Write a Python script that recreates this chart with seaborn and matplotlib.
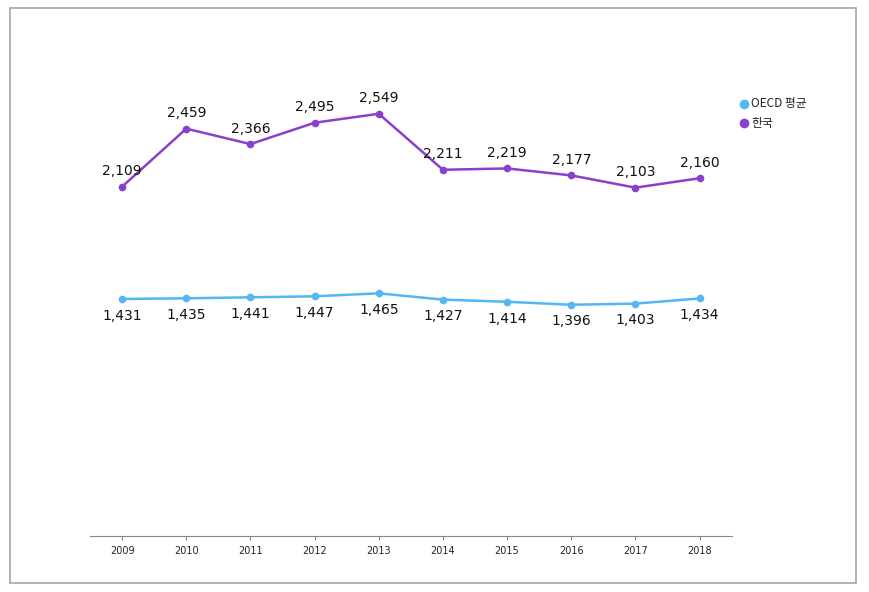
import matplotlib
matplotlib.use("Agg")
import matplotlib.pyplot as plt
import seaborn as sns
import pandas as pd
from matplotlib.patches import Rectangle

years = ["2009", "2010", "2011", "2012", "2013", "2014", "2015", "2016", "2017", "2018"]
oecd = [1431, 1435, 1441, 1447, 1465, 1427, 1414, 1396, 1403, 1434]
korea = [2109, 2459, 2366, 2495, 2549, 2211, 2219, 2177, 2103, 2160]
series_names = ["OECD 평균", "한국"]
colors = ["#55b6f5", "#8a40cc"]

sns.set_theme(style="white")
plt.rcParams['font.family'] = ['Noto Sans CJK KR', 'DejaVu Sans']

df = pd.DataFrame({
    "year": years * 2,
    "value": oecd + korea,
    "series": [series_names[0]] * len(years) + [series_names[1]] * len(years),
})

fig = plt.figure(figsize=(8.69, 5.92), dpi=100)
fig.patch.set_facecolor("white")
ax = fig.add_axes([0.1036, 0.0946, 0.7384, 0.8394])

sns.lineplot(data=df, x="year", y="value", hue="series", palette=colors,
             marker="o", markersize=5.5, markeredgewidth=0, linewidth=1.8,
             sort=False, ax=ax, legend=False)

ax.set_xlim(-0.5, len(years) - 0.5)
ax.set_ylim(0, 3000)
ax.set_xlabel("")
ax.set_ylabel("")
ax.set_yticks([])
for s in ["top", "right", "left"]:
    ax.spines[s].set_visible(False)
ax.spines["bottom"].set_color("#888888")
ax.spines["bottom"].set_linewidth(0.8)
ax.set_xticks(range(len(years)))
ax.set_xticklabels(years, fontsize=7, family="DejaVu Sans", color="#222222")
ax.tick_params(axis="x", bottom=True, length=3, color="#888888", width=0.8, pad=4)
ax.patch.set_alpha(0)

for i, v in enumerate(korea):
    ax.annotate(f"{v:,}", (i, v), xytext=(0, 6), textcoords="offset points",
                ha="center", va="bottom", fontsize=10, family="DejaVu Sans", color="#111111")
for i, v in enumerate(oecd):
    ax.annotate(f"{v:,}", (i, v), xytext=(0, -7), textcoords="offset points",
                ha="center", va="top", fontsize=10, family="DejaVu Sans", color="#111111")

# legend
for k, (name, c) in enumerate(zip(series_names, colors)):
    y = 1 - (104 + k * 19) / 592
    fig.lines.append(plt.Line2D([744 / 869], [y], marker="o", markersize=7,
                                color=c, markeredgewidth=0, transform=fig.transFigure))
    fig.text(751 / 869, y, name, fontsize=8.5, va="center", ha="left", color="#222222")

fig.patches.append(Rectangle((10 / 869, 1 - 583 / 592), 846 / 869, 575 / 592,
                             transform=fig.transFigure, fill=False,
                             edgecolor="#a6a6a6", linewidth=1.2))

fig.savefig("out.png", dpi=100, facecolor="white")
